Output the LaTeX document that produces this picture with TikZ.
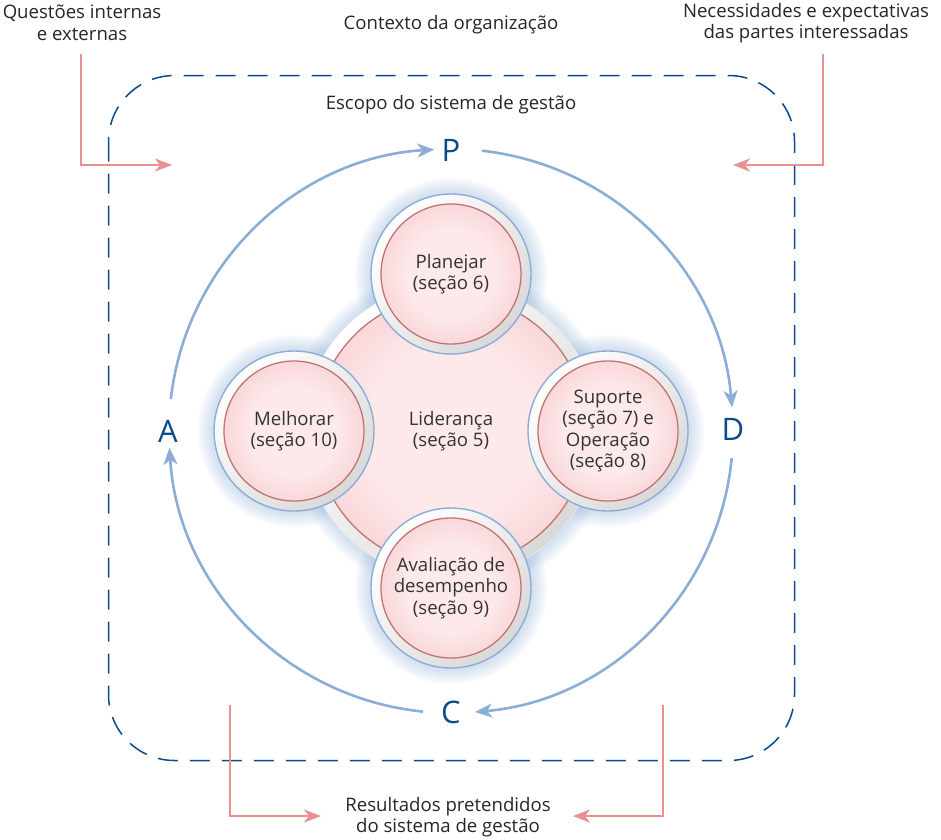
\documentclass[tikz,border=0pt]{standalone}
\usepackage{fontspec}
\setmainfont{Open Sans}
\usetikzlibrary{arrows.meta,positioning}
\definecolor{ringblue}{HTML}{8BADD6}
\definecolor{letterblue}{HTML}{0B4A8B}
\definecolor{arrowpink}{HTML}{E8918F}
\definecolor{pinkedge}{HTML}{C47272}
\definecolor{pinkin}{HTML}{FDE8EA}
\definecolor{pinkout}{HTML}{EFAAAD}
\definecolor{txtgray}{HTML}{333333}
\pgfdeclareradialshading{pinkball}{\pgfpoint{0bp}{0bp}}{color(0bp)=(pinkin); color(16bp)=(pinkin); color(50bp)=(pinkout)}
\begin{document}
\begin{tikzpicture}[x=1pt,y=-1pt,
   every node/.style={font=\fontsize{18.6}{21.5}\selectfont, text=txtgray, align=center},
   ctxtext/.style={text=black!85},
   pdcaletter/.style={font=\fontsize{31}{31}\selectfont, text=letterblue, inner sep=0pt},
   ringnode/.style={circle, minimum size=#1, inner sep=0pt, draw=ringblue, line width=1.4pt,
      top color=white, bottom color=black!15, shading angle=45},
   ballnode/.style={circle, minimum size=#1, inner sep=0pt, draw=pinkedge, line width=1.3pt, shading=pinkball},
   pdcaarrow/.style={draw=ringblue, line width=2.6pt, -{Stealth[length=17pt, width=14pt, inset=5pt]}},
   feedarrow/.style={draw=arrowpink, line width=2.4pt, -{Stealth[length=17pt, width=13pt, inset=5pt]}},
   scopebox/.style={draw=letterblue, line width=1.5pt, dash pattern=on 20pt off 12pt, rounded corners=66pt}]
\useasboundingbox (0,0) rectangle (941,839);

% context and scope
\node[ctxtext] (issues) at (82,23) {Questões internas\\e externas};
\node[ctxtext] (needs) at (806,23) {Necessidades e expectativas\\das partes interessadas};
\node[ctxtext] (context) at (451,25) {Contexto da organização};
\node[ctxtext] (results) at (448,817) {Resultados pretendidos\\do sistema de gestão};
\draw[scopebox] (108.5,75.5) rectangle (794.5,760.5);
\node[ctxtext] (scope) at (451,105) {Escopo do sistema de gestão};

\coordinate (issuesout) at (81,54);   \coordinate (issuesin) at (172,165);
\coordinate (needsout) at (823,54);   \coordinate (needsin) at (733,165);
\coordinate (leftout) at (230,705);   \coordinate (leftin) at (321,816);
\coordinate (rightout) at (663,705);  \coordinate (rightin) at (573,816);
\draw[feedarrow] (issuesout) |- (issuesin);
\draw[feedarrow] (needsout) |- (needsin);
\draw[feedarrow] (leftout) |- (leftin);
\draw[feedarrow] (rightout) |- (rightin);

% PDCA cycle
\coordinate (ctr) at (451,431);
\node[pdcaletter] (P) at (451,150) {P};
\node[pdcaletter] (D) at (733,429) {D};
\node[pdcaletter] (C) at (451,712) {C};
\node[pdcaletter] (A) at (168,431) {A};
\draw[pdcaarrow] (ctr) ++(186.5:282) arc[start angle=186.5, end angle=266.6, radius=282];
\draw[pdcaarrow] (ctr) ++(-83.7:282) arc[start angle=-83.7, end angle=-4.8, radius=282];
\draw[pdcaarrow] (ctr) ++(5.5:282) arc[start angle=5.5, end angle=85.1, radius=282];
\draw[pdcaarrow] (ctr) ++(95.7:282) arc[start angle=95.7, end angle=176.6, radius=282];

% clauses
\coordinate (cplan) at (451,274);
\coordinate (cimpr) at (294,431);
\coordinate (csupp) at (608,431);
\coordinate (ceval) at (451,588);
\foreach \p/\r in {ctr/148,cplan/80,cimpr/80,csupp/80,ceval/80}
   \foreach \k in {1,...,9}
      \fill[ringblue, opacity=0.05] (\p) circle ({\r+\k*1.8});
\node[ringnode=296pt, draw=black!8, line width=0.6pt] (leadring) at (ctr) {};
\node[ballnode=272pt] (lead) at (ctr) {Liderança\\(seção 5)};
\foreach \p/\n/\t in {cplan/plan/{Planejar\\(seção 6)},
      cimpr/impr/{Melhorar\\(seção 10)},
      csupp/supp/{Suporte\\(seção 7) e\\Operação\\(seção 8)},
      ceval/eval/{Avaliação de\\desempenho\\(seção 9)}}{
   \node[ringnode=160pt] (\n ring) at (\p) {};
   \node[ballnode=140pt] (\n) at (\p) {\t};
}
\end{tikzpicture}
\end{document}
